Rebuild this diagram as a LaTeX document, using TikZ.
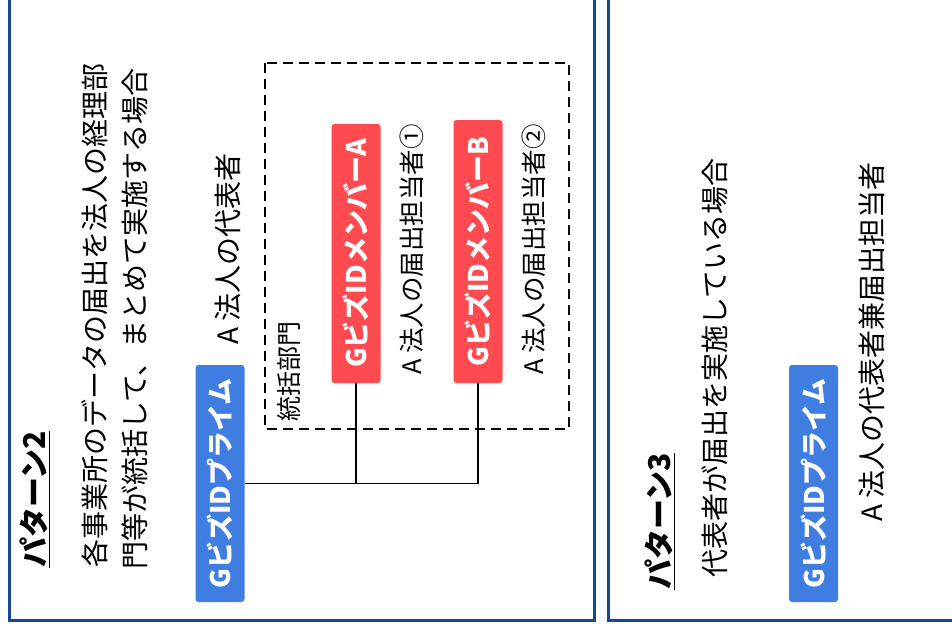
\documentclass[tikz,border=0pt]{standalone}
\usepackage{fontspec}
\setmainfont{Noto Sans CJK JP}
\definecolor{panelblue}{RGB}{20,72,150}
\definecolor{primeblue}{RGB}{64,125,225}
\definecolor{memberred}{RGB}{255,75,80}
\tikzset{
    panel/.style={draw=panelblue, line width=3pt},
    idbox/.style={rotate=90, text=white, font=\bfseries\fontsize{27}{27}\selectfont, rounded corners=3pt, inner sep=0pt, minimum height=49pt},
    vtext/.style={rotate=90, anchor=base west, inner sep=0pt, font=\fontsize{28}{28}\selectfont},
    titletext/.style={vtext, font=\bfseries\fontsize{30}{30}\selectfont},
    group/.style={draw=black, line width=2pt, dash pattern=on 10pt off 6pt},
    link/.style={draw=black, line width=1.2pt}
}
\begin{document}
\begin{tikzpicture}[x=1pt, y=-1pt]
    \useasboundingbox (0,0) rectangle (952,629);

    % Panels
    \draw[panel] (9.5,-20) rectangle (594,620.5);
    \draw[panel] (608.5,-20) rectangle (975,620.5);

    % Pattern 2
    \node[titletext] (title2) at (45,568) {\underline{パターン2}};
    \node[vtext] (desc2a) at (105,568) {各事業所のデータの届出を法人の経理部};
    \node[vtext] (desc2b) at (145,570) {門等が統括して、まとめて実施する場合};
    \node[idbox, fill=primeblue, minimum width=237pt] (prime2) at (220,483.5) {GビズIDプライム};
    \node[vtext] (rep2) at (238,345) {A 法人の代表者};

    % Department
    \draw[group] (265,63) rectangle (569,429);
    \node[vtext, font=\fontsize{25}{25}\selectfont] (dept) at (298,422) {統括部門};

    % Member IDs
    \foreach \n/\x/\y/\len/\num in {A/356/253.5/259/①, B/478/251.5/263/②} {
        \node[idbox, fill=memberred, minimum width=\len pt] (mem\n) at (\x,\y) {GビズIDメンバー\n};
        \node[vtext, font=\fontsize{25.5}{25.5}\selectfont] (staff\n) at (\x+65,375) {A 法人の届出担当者\num};
    }

    % Links
    \draw[link] (prime2.south) -| (memB.west);
    \draw[link] (memA.west) -- (memA.west |- prime2.south);

    % Pattern 3
    \node[titletext] (title3) at (670,590) {\underline{パターン3}};
    \node[vtext] (desc3) at (725,578) {代表者が届出を実施している場合};
    \node[idbox, fill=primeblue, minimum width=237pt] (prime3) at (813.5,483.5) {GビズIDプライム};
    \node[vtext] (rep3) at (882,522) {A 法人の代表者兼届出担当者};
\end{tikzpicture}
\end{document}
